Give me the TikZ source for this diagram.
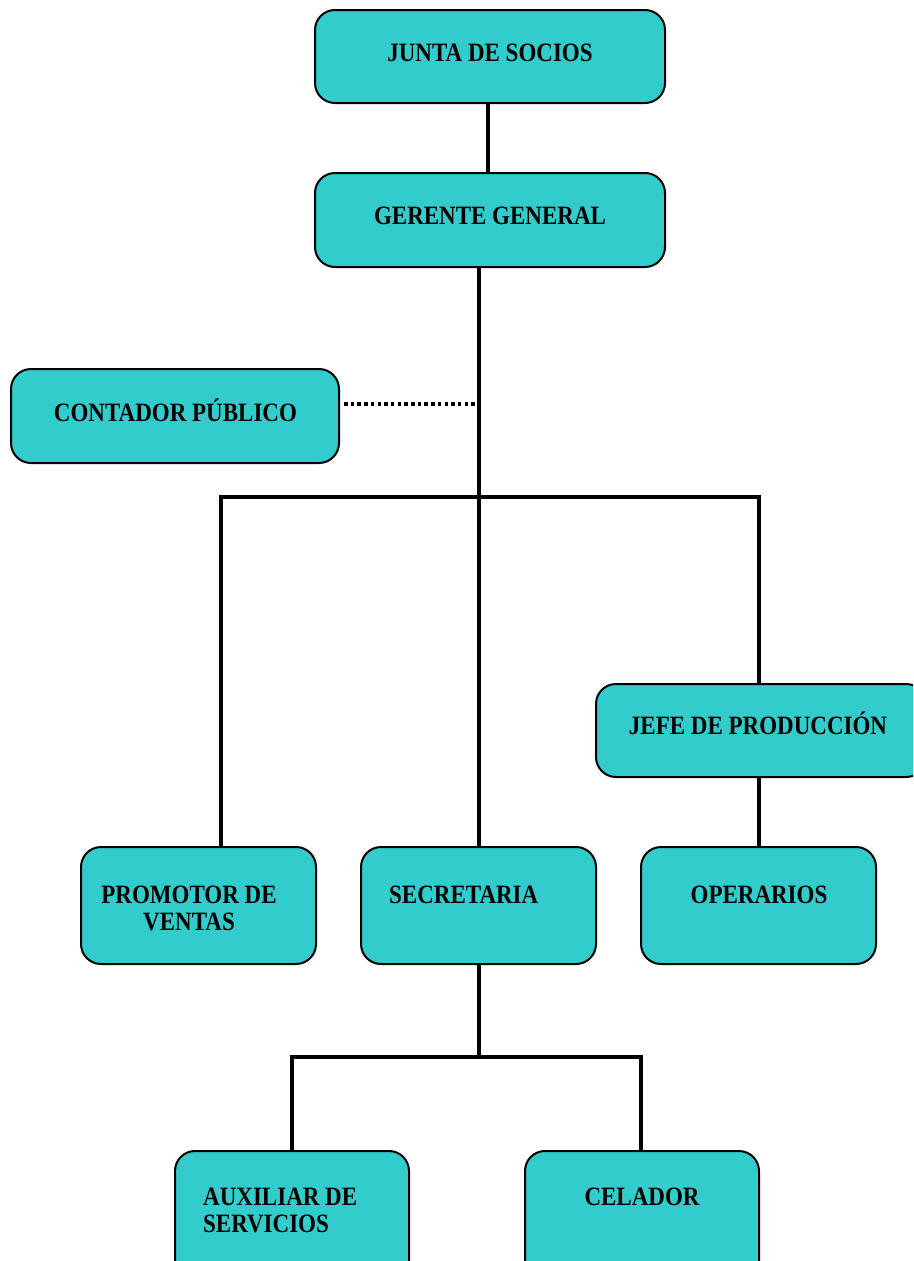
\documentclass[tikz,border=0pt]{standalone}
\usepackage{fontspec}
\setmainfont{Liberation Serif}
\definecolor{boxfill}{HTML}{33CCCC}
\newcommand\lbltxt[1]{\scalebox{1}[1.15]{#1}}
\newcommand\lbltwo[2]{\scalebox{1}[1.15]{\begin{tabular}[t]{@{}l@{}}#1\\#2\end{tabular}}}
\newcommand\lbltwoc[2]{\scalebox{1}[1.15]{\begin{tabular}[t]{@{}c@{}}#1\\#2\end{tabular}}}
\begin{document}
\begin{tikzpicture}[x=1pt,y=-1pt,
  orgbox/.style={draw=black, line width=2pt, fill=boxfill, rounded corners=20pt, inner sep=0pt},
  lbl/.style={font=\fontsize{23}{23.6}\selectfont\bfseries, inner sep=0pt, anchor=base},
  link/.style={line width=3.5pt, draw=black},
  dotlink/.style={line width=3.5pt, draw=black, dash pattern=on 3.5pt off 3.2pt}]
\useasboundingbox (0,0) rectangle (913,1261);
\begin{scope}
\clip (0,0) rectangle (913,1261);
% boxes
\node[orgbox, minimum width=350pt, minimum height=93pt] (junta) at (490,56.5) {};
\node[orgbox, minimum width=350pt, minimum height=94pt] (gerente) at (490,220) {};
\node[orgbox, minimum width=328pt, minimum height=94pt] (contador) at (175,416) {};
\node[orgbox, minimum width=330pt, minimum height=93pt] (jefe) at (761,730.5) {};
\node[orgbox, minimum width=235pt, minimum height=117pt] (promotor) at (198.5,905.5) {};
\node[orgbox, minimum width=235pt, minimum height=117pt] (secretaria) at (478.5,905.5) {};
\node[orgbox, minimum width=235pt, minimum height=117pt] (operarios) at (758.5,905.5) {};
\node[orgbox, minimum width=234pt, minimum height=130pt] (auxiliar) at (292,1216) {};
\node[orgbox, minimum width=234pt, minimum height=130pt] (celador) at (642,1216) {};
\end{scope}
% labels
\node[lbl] (tjunta) at (490,61) {\lbltxt{JUNTA DE SOCIOS}};
\node[lbl] (tgerente) at (490,224) {\lbltxt{GERENTE GENERAL}};
\node[lbl] (tcontador) at (175.5,421) {\lbltxt{CONTADOR PÚBLICO}};
\node[lbl] (tjefe) at (758,734) {\lbltxt{JEFE DE PRODUCCIÓN}};
\node[lbl] (tpromotor) at (189,903) {\lbltwoc{PROMOTOR DE}{VENTAS}};
\node[lbl, anchor=base west] (tsecretaria) at (389,903) {\lbltxt{SECRETARIA}};
\node[lbl] (toperarios) at (759,903) {\lbltxt{OPERARIOS}};
\node[lbl, anchor=base west] (tauxiliar) at (203,1205) {\lbltwo{AUXILIAR DE}{SERVICIOS}};
\node[lbl] (tcelador) at (642,1205) {\lbltxt{CELADOR}};
% junction coordinates
\coordinate (busA) at (479,497);
\coordinate (busL) at (221,497);
\coordinate (busR) at (759,497);
\coordinate (dotJ) at (479,404);
\coordinate (busB) at (479,1057);
\coordinate (busBL) at (292,1057);
\coordinate (busBR) at (641,1057);
% connectors
\draw[link] (junta.south -| 488,0) -- (gerente.north -| 488,0);
\draw[link] (gerente.south -| busA) -- (secretaria.north -| busA);
\draw[dotlink] (contador.east |- dotJ) ++(4,0) -- (dotJ);
\draw[link] (busL |- promotor.north) -- (busL) -- (busR) -- (busR |- jefe.north);
\draw[link] (busR |- jefe.south) -- (busR |- operarios.north);
\draw[link] (secretaria.south -| busB) -- (busB);
\draw[link] (busBL |- auxiliar.north) -- (busBL) -- (busBR) -- (busBR |- celador.north);
\end{tikzpicture}
\end{document}
